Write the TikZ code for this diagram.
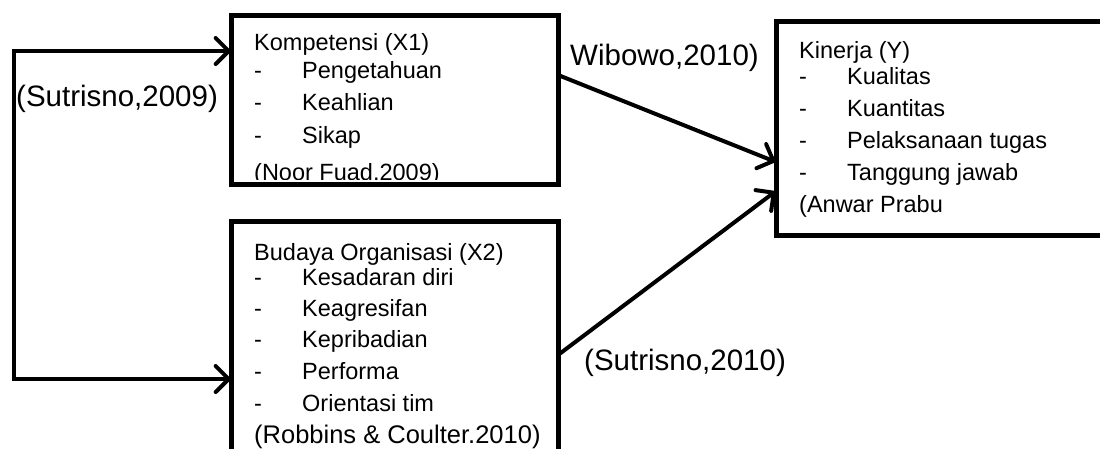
\documentclass[tikz,border=0pt]{standalone}
\usepackage{fontspec}
\setmainfont{Liberation Sans}
\usetikzlibrary{arrows.meta}
\begin{document}
\begin{tikzpicture}[x=1pt,y=-1pt,
  box/.style={draw, line width=5pt, rectangle, inner sep=0pt, outer sep=0pt},
  conn/.style={line width=4pt, -{Straight Barb[length=13pt,width=26pt,line cap=round]}},
  txt/.style={anchor=base west, inner sep=0pt, font=\fontsize{23.5}{23.5}\selectfont},
  lbl/.style={anchor=base west, inner sep=0pt, font=\fontsize{29.5}{30}\selectfont}]
\clip (0,0) rectangle (1100,448);
% boxes
\node[box, minimum width=326.5pt, minimum height=169pt] (kb) at (394.75,99.5) {};
\node[box, minimum width=326.5pt, minimum height=258.5pt] (bb) at (394.75,350.75) {};
\node[box, minimum width=364pt, minimum height=214pt] (yb) at (958,128) {};
% box 1 text
\begin{scope}
\clip (231.5,15) rectangle (558,179);
\node[txt] (k0) at (254,50) {Kompetensi (X1)};
\node[txt] (kd1) at (254,78) {-};  \node[txt] (k1) at (302,78) {Pengetahuan};
\node[txt] (kd2) at (254,110) {-}; \node[txt] (k2) at (302,110) {Keahlian};
\node[txt] (kd3) at (254,143) {-}; \node[txt] (k3) at (302,143) {Sikap};
\node[txt] (k4) at (254,180) {(Noor Fuad.2009)};
\end{scope}
% box 2 text
\node[txt] (b0) at (254,260) {Budaya Organisasi (X2)};
\node[txt] (bd1) at (254,285) {-}; \node[txt] (b1) at (302,285) {Kesadaran diri};
\node[txt] (bd2) at (254,316) {-}; \node[txt] (b2) at (302,316) {Keagresifan};
\node[txt] (bd3) at (254,347) {-}; \node[txt] (b3) at (302,347) {Kepribadian};
\node[txt] (bd4) at (254,379) {-}; \node[txt] (b4) at (302,379) {Performa};
\node[txt] (bd5) at (254,411) {-}; \node[txt] (b5) at (302,411) {Orientasi tim};
\node[txt, font=\fontsize{25.5}{25.5}\selectfont] (b6) at (254,443) {(Robbins \& Coulter.2010)};
% box 3 text
\node[txt] (y0) at (799,58) {Kinerja (Y)};
\node[txt] (yd1) at (799,84) {-};  \node[txt] (y1) at (847,84) {Kualitas};
\node[txt] (yd2) at (799,116) {-}; \node[txt] (y2) at (847,116) {Kuantitas};
\node[txt] (yd3) at (799,148) {-}; \node[txt] (y3) at (847,148) {Pelaksanaan tugas};
\node[txt] (yd4) at (799,180) {-}; \node[txt] (y4) at (847,180) {Tanggung jawab};
\node[txt] (y5) at (799,212) {(Anwar Prabu};
% labels
\node[lbl] (l1) at (16,106.5) {(Sutrisno,2009)};
\node[lbl] (l2) at (570,65) {Wibowo,2010)};
\node[lbl] (l3) at (584,370) {(Sutrisno,2010)};
% connectors
\coordinate (c1) at (13.5,51);
\coordinate (c2) at (13.5,379);
\draw[line width=4pt, {Straight Barb[length=13pt,width=26pt,line cap=round]}-{Straight Barb[length=13pt,width=26pt,line cap=round]}]
  (c1 -| kb.west) -- (c1) -- (c2) -- (c2 -| bb.west);
\draw[conn] ([yshift=24.5pt]kb.east) -- ([yshift=-34pt]yb.west);
\draw[conn] ([yshift=-4.25pt]bb.east) -- ([yshift=-63pt]yb.west);
\end{tikzpicture}
\end{document}
